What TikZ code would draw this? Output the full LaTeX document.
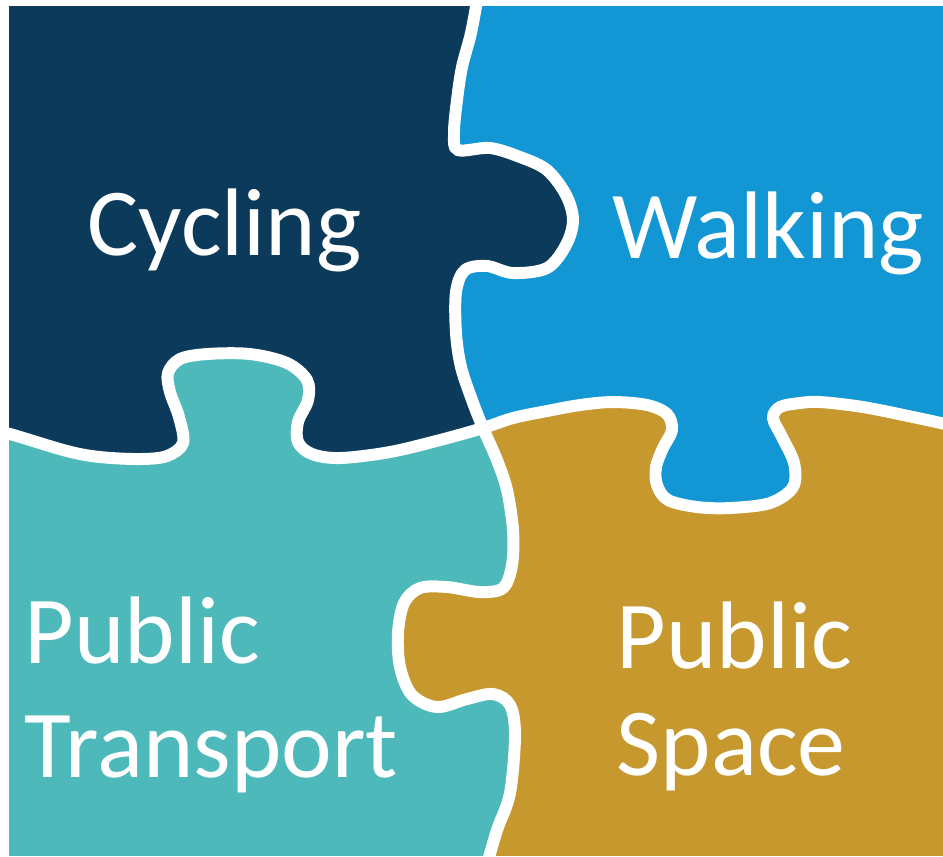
\documentclass[tikz,border=0pt]{standalone}
\usepackage{fontspec}
\setmainfont{Carlito}
\usetikzlibrary{positioning}

\definecolor{cyclingnavy}{HTML}{0B3A5B}
\definecolor{walkingblue}{HTML}{1297D4}
\definecolor{transportteal}{HTML}{4DB9BA}
\definecolor{spacegold}{HTML}{C6982D}

% the two cuts of the puzzle, in pixels
\newcommand{\vcut}{plot[smooth, tension=0.55] coordinates {(478,-5) (471,33) (462,67) (457,100) (454,133) (458,150) (490,148) (520,157) (547,170) (566,195) (573,220) (566,245) (547,268) (513,273) (487,266) (465,270) (456,292) (456,333) (461,367) (472,400) (483,428) (497,460) (507,490) (513,530) (512,565) (503,588) (480,592) (447,587) (420,588) (404,603) (398,633) (400,667) (412,695) (437,707) (467,699) (493,694) (510,705) (515,735) (510,793) (497,830) (488,861)}}
\newcommand{\hcut}{plot[smooth, tension=0.55] coordinates {(-5,432) (10,434) (67,451) (100,457) (140,459) (167,456) (183,443) (179,417) (170,392) (168,373) (180,359) (207,354) (250,354) (287,363) (307,380) (308,400) (298,422) (298,442) (312,454) (340,458) (390,452) (440,440) (483,428) (513,418) (547,411) (580,405) (613,402) (647,405) (667,414) (672,430) (663,448) (656,467) (657,485) (668,500) (697,507) (730,508) (770,503) (793,487) (794,463) (782,437) (773,418) (780,407) (800,403) (820,402) (863,407) (913,417) (950,425)}}

\begin{document}
\begin{tikzpicture}[x=0.01cm, y=-0.01cm,
    piecetext/.style={text=white, inner sep=0pt, anchor=base west, align=left},
    cutline/.style={draw=white, line width=3.4pt}]
    \useasboundingbox (0,0) rectangle (943,856);

    \begin{scope}
        \clip (9,6) rectangle (943,856);
        % pieces
        \fill[spacegold] (0,0) rectangle (943,856);
        \begin{scope}
            \clip \vcut -- (-10,870) -- (-10,-10) -- cycle;
            \fill[transportteal] (0,0) rectangle (943,856);
            \fill[cyclingnavy] \hcut -- (960,-10) -- (-10,-10) -- cycle;
        \end{scope}
        \begin{scope}
            \clip \vcut -- (960,870) -- (960,-10) -- cycle;
            \fill[walkingblue] \hcut -- (960,-10) -- (-10,-10) -- cycle;
        \end{scope}

        % white gaps
        \draw[cutline] \vcut;
        \draw[cutline] \hcut;
    \end{scope}

    % labels (base is the last line)
    \node[piecetext, font=\fontsize{27.3pt}{32pt}\selectfont] (cycling) at (87,255) {Cycling};
    \node[piecetext, font=\fontsize{27.3pt}{32pt}\selectfont] (walking) at (612,258) {Walking};
    \node[piecetext, font=\fontsize{27.3pt}{32.2pt}\selectfont] (transport) at (24,777) {Public\\Transport};
    \node[piecetext, font=\fontsize{27.3pt}{30.4pt}\selectfont] (space) at (616,775) {Public\\Space};
\end{tikzpicture}
\end{document}
